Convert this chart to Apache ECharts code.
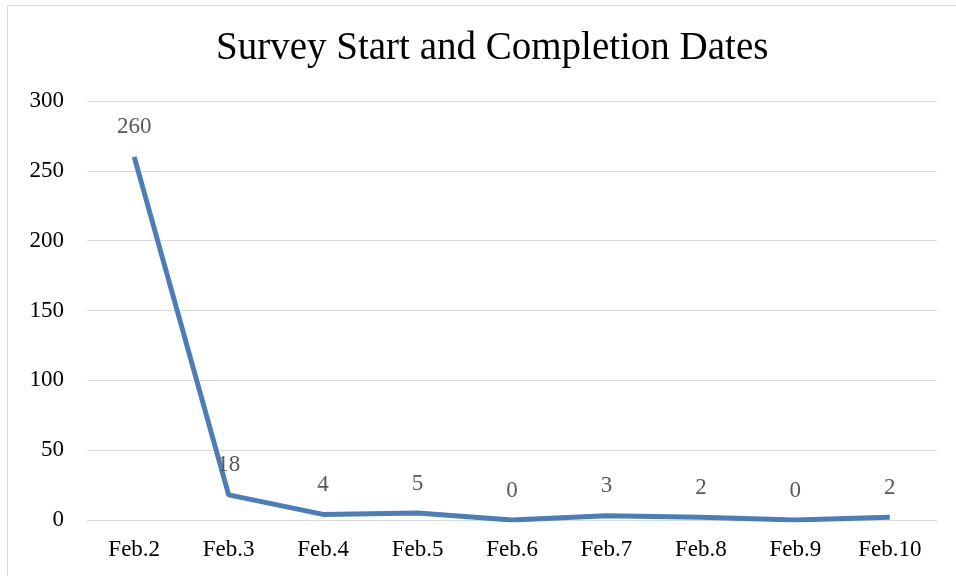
<!DOCTYPE html>
<html>
<head>
<meta charset="utf-8">
<script src="https://cdn.jsdelivr.net/npm/echarts@6/dist/echarts.min.js"></script>
<style>
  html, body { margin: 0; padding: 0; background: #fff; }
  #chart { width: 956px; height: 576px; }
</style>
</head>
<body>
<div id="chart"></div>
<script>
var days = ['Feb.2', 'Feb.3', 'Feb.4', 'Feb.5', 'Feb.6', 'Feb.7', 'Feb.8', 'Feb.9', 'Feb.10'];
var counts = [260, 18, 4, 5, 0, 3, 2, 0, 2];
var yTicks = [0, 50, 100, 150, 200, 250, 300];

var serif = '"Liberation Serif", "DejaVu Serif", serif';
var myChart = echarts.init(document.getElementById('chart'), null, {renderer: 'canvas'});

var option = {
    backgroundColor: '#fff',
    graphic: [{
        type: 'rect',
        shape: {x: 7.5, y: 5.5, width: 960, height: 600},
        style: {fill: 'none', stroke: '#d9d9d9', lineWidth: 1},
        silent: true
    }],
    title: {
        text: 'Survey Start and Completion Dates',
        left: 211,
        top: 24,
        textStyle: {
            fontFamily: serif,
            fontWeight: 'normal',
            fontSize: 39,
            color: '#000'
        }
    },
    grid: {
        left: 87,
        right: 19,
        top: 101,
        bottom: 56
    },
    xAxis: {
        type: 'category',
        data: days,
        boundaryGap: true,
        axisLine: {show: true, lineStyle: {color: '#d9d9d9', width: 1}},
        axisTick: {show: false},
        axisLabel: {
            fontFamily: serif,
            fontSize: 23,
            color: '#000',
            margin: 18
        }
    },
    yAxis: {
        type: 'value',
        min: yTicks[0],
        max: yTicks[yTicks.length - 1],
        interval: 50,
        axisLine: {show: false},
        axisTick: {show: false},
        splitLine: {lineStyle: {color: '#d9d9d9', width: 1}},
        axisLabel: {
            fontFamily: serif,
            fontSize: 23,
            color: '#000',
            margin: 23
        }
    },
    series: [{
        type: 'line',
        data: counts,
        symbol: 'circle',
        symbolSize: 0,
        showSymbol: true,
        lineStyle: {color: '#4a7ebb', width: 5},
        itemStyle: {color: '#4a7ebb'},
        label: {
            show: true,
            position: 'top',
            distance: 18,
            fontFamily: serif,
            fontSize: 23,
            color: '#595959'
        },
        animation: false
    }],
    animation: false
};

myChart.setOption(option);
</script>
</body>
</html>
